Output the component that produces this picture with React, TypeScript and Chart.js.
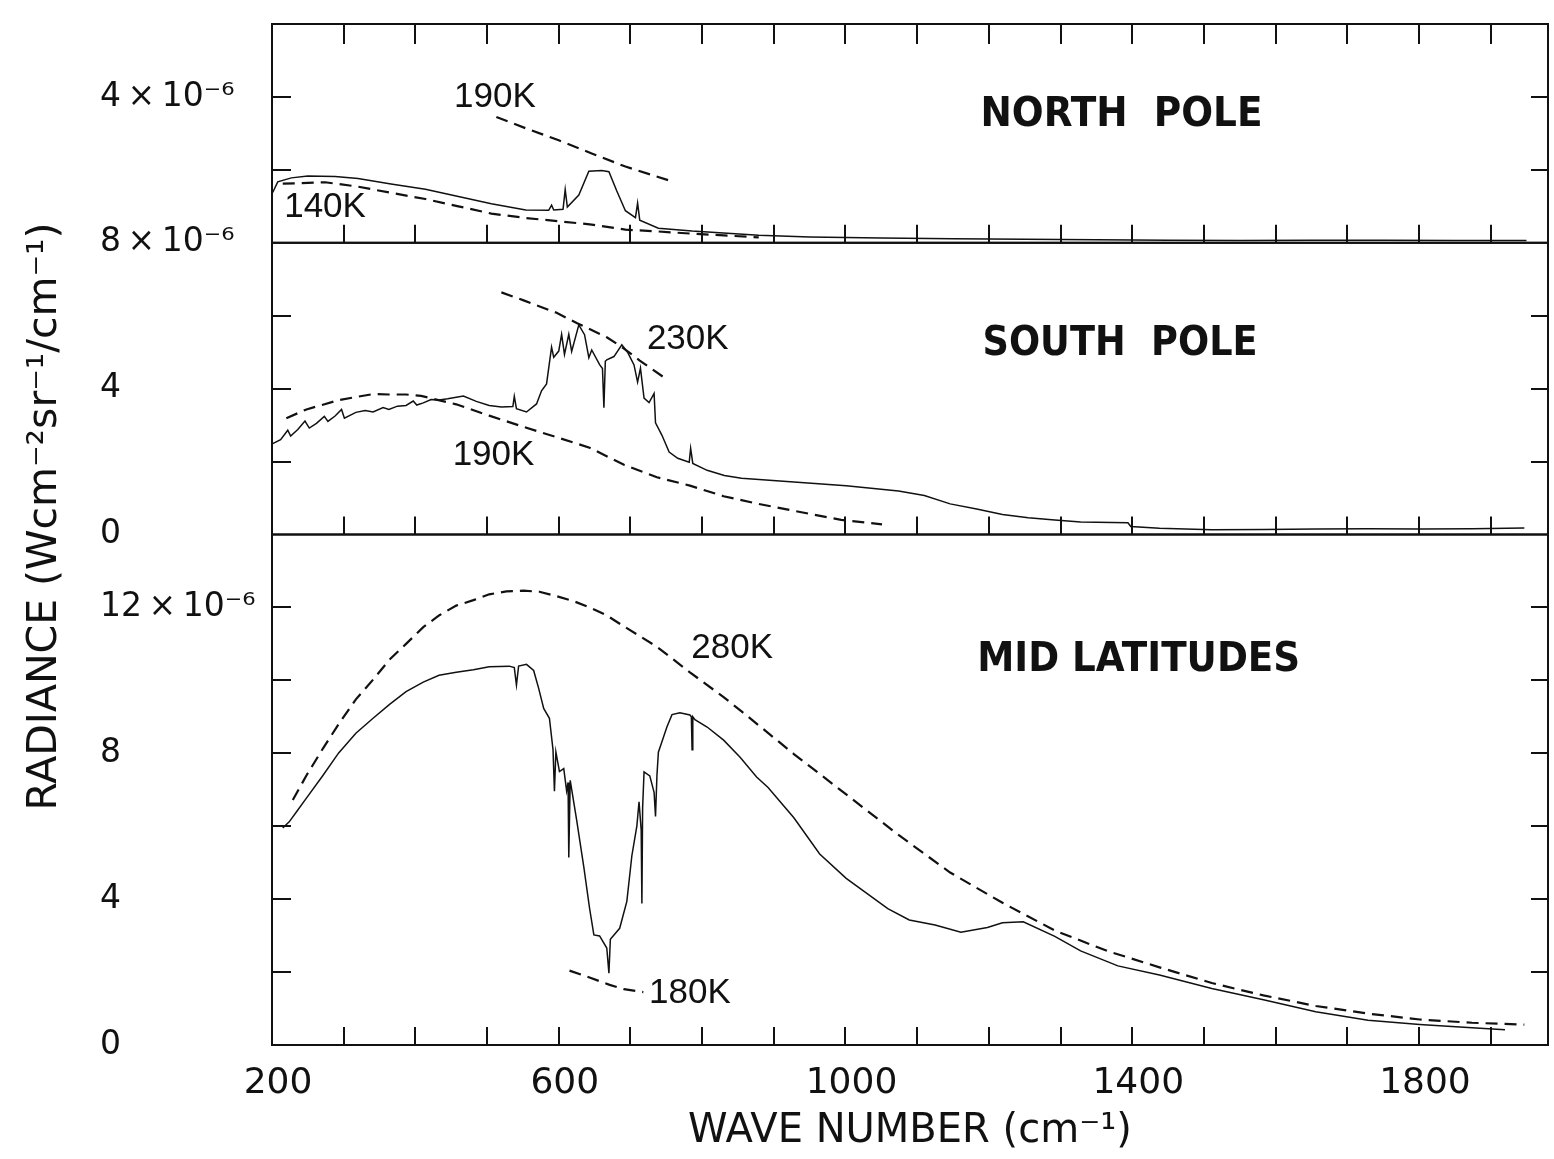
import React, { useEffect, useRef } from "react";
import { Chart, registerables } from "chart.js";

Chart.register(...registerables);

// Wavenumber (cm^-1) and radiance (units of 1e-6 W cm^-2 sr^-1 / cm^-1)
const NORTH_OBS_WN = [201, 208, 227, 250, 288, 320, 366, 414, 460, 506, 554, 586, 590, 593, 606, 609, 612, 628, 642, 660, 670, 681, 693, 707, 710, 713, 739, 786, 879, 950, 1050, 1150, 1250, 1350, 1450, 1550, 1650, 1750, 1850, 1950];
const NORTH_OBS_RAD = [1.38, 1.67, 1.78, 1.83, 1.82, 1.76, 1.61, 1.47, 1.27, 1.07, 0.9, 0.89, 1.03, 0.9, 0.92, 1.46, 0.98, 1.31, 1.96, 1.98, 1.95, 1.42, 0.88, 0.69, 1.09, 0.62, 0.4, 0.32, 0.21, 0.16, 0.13, 0.11, 0.1, 0.08, 0.07, 0.06, 0.07, 0.07, 0.06, 0.06];
const NORTH_140K_WN = [215, 274, 320, 366, 414, 460, 506, 554, 600, 646, 693, 739, 786, 879];
const NORTH_140K_RAD = [1.62, 1.66, 1.54, 1.37, 1.2, 1.0, 0.8, 0.68, 0.59, 0.5, 0.36, 0.31, 0.25, 0.15];
const NORTH_190K_WN = [513, 554, 600, 646, 693, 757];
const NORTH_190K_RAD = [3.45, 3.14, 2.81, 2.45, 2.09, 1.69];

const SOUTH_OBS_WN = [201, 212, 222, 226, 236, 246, 252, 262, 273, 278, 288, 297, 301, 317, 330, 341, 355, 363, 375, 387, 397, 402, 411, 422, 433, 445, 467, 485, 503, 520, 536, 538, 541, 555, 569, 576, 583, 590, 593, 600, 604, 608, 614, 618, 628, 636, 642, 646, 657, 661, 663, 665, 667, 677, 688, 696, 705, 710, 714, 719, 726, 733, 735, 744, 754, 766, 782, 784, 787, 807, 831, 855, 928, 1001, 1074, 1110, 1146, 1183, 1219, 1255, 1292, 1328, 1394, 1398, 1438, 1511, 1584, 1656, 1729, 1802, 1874, 1947];
const SOUTH_OBS_RAD = [2.49, 2.6, 2.86, 2.7, 2.88, 3.11, 2.92, 3.05, 3.24, 3.1, 3.25, 3.43, 3.19, 3.35, 3.4, 3.36, 3.48, 3.43, 3.52, 3.54, 3.66, 3.55, 3.61, 3.7, 3.69, 3.72, 3.8, 3.65, 3.54, 3.5, 3.51, 3.79, 3.45, 3.36, 3.58, 3.94, 4.13, 5.14, 4.86, 5.03, 5.49, 4.94, 5.49, 5.02, 5.75, 5.48, 4.85, 5.06, 4.66, 4.55, 3.48, 4.75, 4.79, 4.88, 5.2, 5.0, 4.65, 4.18, 4.56, 3.74, 3.62, 3.87, 3.06, 2.72, 2.26, 2.09, 1.98, 2.36, 1.95, 1.76, 1.62, 1.54, 1.44, 1.34, 1.19, 1.07, 0.84, 0.7, 0.55, 0.46, 0.4, 0.34, 0.32, 0.22, 0.17, 0.13, 0.14, 0.15, 0.16, 0.15, 0.16, 0.18];
const SOUTH_190K_WN = [220, 248, 271, 294, 317, 341, 363, 387, 408, 457, 503, 551, 597, 643, 691, 737, 783, 830, 876, 928, 994, 1051];
const SOUTH_190K_RAD = [3.19, 3.43, 3.56, 3.69, 3.77, 3.85, 3.84, 3.84, 3.8, 3.57, 3.26, 2.95, 2.67, 2.38, 1.91, 1.57, 1.34, 1.05, 0.85, 0.65, 0.4, 0.28];
const SOUTH_230K_WN = [520, 551, 597, 625, 667, 691, 713, 751];
const SOUTH_230K_RAD = [6.64, 6.42, 6.08, 5.8, 5.41, 5.1, 4.77, 4.25];

const MID_OBS_WN = [215, 224, 234, 248, 271, 293, 317, 341, 364, 387, 411, 433, 457, 481, 503, 531, 538, 541, 544, 555, 565, 572, 579, 587, 592, 594, 596, 601, 607, 611, 613, 614, 616, 625, 635, 643, 649, 657, 667, 670, 672, 685, 695, 702, 709, 712, 715, 716, 717, 719, 727, 733, 735, 737, 739, 751, 758, 769, 783, 785, 786, 787, 790, 807, 830, 853, 876, 892, 928, 964, 1001, 1059, 1089, 1125, 1161, 1198, 1219, 1248, 1292, 1328, 1380, 1438, 1511, 1583, 1656, 1729, 1801, 1874, 1920];
const MID_OBS_RAD = [5.95, 6.12, 6.39, 6.77, 7.39, 8.01, 8.55, 8.96, 9.34, 9.69, 9.95, 10.14, 10.22, 10.29, 10.37, 10.39, 10.35, 9.87, 10.39, 10.44, 10.27, 9.78, 9.23, 8.96, 8.1, 6.96, 8.04, 7.5, 7.58, 6.97, 7.2, 5.14, 7.26, 6.17, 4.88, 3.75, 3.02, 2.99, 2.66, 1.97, 2.9, 3.2, 3.94, 5.19, 6.01, 6.67, 5.9, 3.88, 6.5, 7.49, 7.38, 6.93, 6.27, 7.4, 8.03, 8.73, 9.06, 9.11, 9.05, 9.0, 8.1, 9.0, 8.92, 8.72, 8.36, 7.89, 7.35, 7.06, 6.23, 5.24, 4.57, 3.74, 3.43, 3.29, 3.09, 3.22, 3.35, 3.38, 2.98, 2.58, 2.17, 1.92, 1.55, 1.24, 0.91, 0.68, 0.56, 0.47, 0.42];
const MID_280K_WN = [229, 248, 271, 294, 317, 341, 364, 387, 411, 433, 457, 481, 503, 527, 551, 573, 597, 621, 643, 667, 691, 737, 783, 830, 855, 928, 1001, 1074, 1146, 1219, 1292, 1365, 1438, 1511, 1583, 1656, 1729, 1801, 1874, 1947];
const MID_280K_RAD = [6.72, 7.39, 8.13, 8.83, 9.48, 10.02, 10.57, 11.0, 11.46, 11.78, 12.05, 12.2, 12.36, 12.44, 12.46, 12.43, 12.31, 12.17, 12.0, 11.78, 11.48, 10.92, 10.22, 9.54, 9.15, 7.98, 6.87, 5.76, 4.73, 3.9, 3.14, 2.58, 2.13, 1.7, 1.36, 1.07, 0.86, 0.7, 0.61, 0.56];
const MID_180K_WN = [615, 643, 671, 691, 718];
const MID_180K_RAD = [2.04, 1.85, 1.65, 1.53, 1.45];

// Axes / ticks
const X_MIN = 200;
const X_MAX = 1980;
const X_LABEL_VALUES = [200, 600, 1000, 1400, 1800];
const X_MINOR_TICKS = [300, 400, 500, 600, 700, 800, 900, 1000, 1100, 1200, 1300, 1400, 1500, 1600, 1700, 1800, 1900];

const PANEL_AXES = ["yNorth", "ySouth", "yMid"];
const PANEL_MAX = [6, 8, 14];
const PANEL_TICKS = [[2, 4], [2, 4, 6], [2, 4, 6, 8, 10, 12]];
const NORTH_Y_LABEL_VALUES = [4];
const NORTH_Y_LABEL_TEXT = ["4\u2009×\u200910⁻⁶"];
const SOUTH_Y_LABEL_VALUES = [0, 4, 8];
const SOUTH_Y_LABEL_TEXT = ["0", "4", "8\u2009×\u200910⁻⁶"];
const MID_Y_LABEL_VALUES = [0, 4, 8, 12];
const MID_Y_LABEL_TEXT = ["0", "4", "8", "12\u2009×\u200910⁻⁶"];

// Annotations (anchored in data coordinates)
const PANEL_TITLE_TEXT = ["NORTH  POLE", "SOUTH  POLE", "MID LATITUDES"];
const PANEL_TITLE_WN = [1385, 1383, 1409];
const PANEL_TITLE_RAD = [3.5, 5.21, 10.54];
const TEMP_LABEL_TEXT = ["190K", "140K", "230K", "190K", "280K", "180K"];
const TEMP_LABEL_WN = [511, 274, 780, 509, 842, 783];
const TEMP_LABEL_RAD = [3.98, 0.98, 5.36, 2.17, 10.88, 1.43];
const TEMP_LABEL_AXIS = ["yNorth", "yNorth", "ySouth", "ySouth", "yMid", "yMid"];

const Y_TITLE = "RADIANCE (Wcm⁻²sr⁻¹/cm⁻¹)";
const X_TITLE = "WAVE NUMBER (cm⁻¹)";

const INK = "#111";
const SANS = '"DejaVu Sans", "Noto Sans", sans-serif';
const THIN = '"Liberation Sans", Arial, sans-serif';

const pts = (xs: number[], ys: number[]) => xs.map((x, i) => ({ x, y: ys[i] }));
const labelFor = (vals: number[], texts: string[]) => (v: any) => {
  const i = vals.indexOf(Number(v));
  return i >= 0 ? texts[i] : "";
};

const overlayPlugin = {
  id: "overlay",
  afterDraw(chart: any) {
    const { ctx, chartArea } = chart;
    const xs = chart.scales.x;
    const { left, right } = chartArea;
    ctx.save();
    ctx.strokeStyle = INK;
    ctx.lineWidth = 2;
    const seg = (x1: number, y1: number, x2: number, y2: number) => {
      ctx.beginPath();
      ctx.moveTo(x1, y1);
      ctx.lineTo(x2, y2);
      ctx.stroke();
    };
    PANEL_AXES.forEach((id, k) => {
      const ys = chart.scales[id];
      ctx.strokeRect(left, ys.top, right - left, ys.bottom - ys.top);
      X_MINOR_TICKS.forEach((v) => {
        const px = Math.round(xs.getPixelForValue(v));
        seg(px, ys.bottom, px, ys.bottom - 18);
        if (k === 0) seg(px, ys.top, px, ys.top + 20);
      });
      PANEL_TICKS[k].forEach((v) => {
        const py = Math.round(ys.getPixelForValue(v));
        seg(left, py, left + 19, py);
        seg(right, py, right - 17, py);
      });
    });

    ctx.fillStyle = INK;
    ctx.textAlign = "center";
    ctx.textBaseline = "middle";
    const PANEL_TITLE_WIDTH = [282, 275, 323];
    PANEL_TITLE_TEXT.forEach((t, i) => {
      const ys = chart.scales[PANEL_AXES[i]];
      const px = xs.getPixelForValue(PANEL_TITLE_WN[i]);
      const py = ys.getPixelForValue(PANEL_TITLE_RAD[i]);
      ctx.font = `bold 40px ${SANS}`;
      const w = ctx.measureText(t).width;
      ctx.save();
      ctx.translate(px, py);
      ctx.scale(PANEL_TITLE_WIDTH[i] / w, 1);
      ctx.fillText(t, 0, 0);
      ctx.restore();
    });

    ctx.font = `35px ${THIN}`;
    TEMP_LABEL_TEXT.forEach((t, i) => {
      const ys = chart.scales[TEMP_LABEL_AXIS[i]];
      ctx.fillText(t, xs.getPixelForValue(TEMP_LABEL_WN[i]), ys.getPixelForValue(TEMP_LABEL_RAD[i]));
    });

    // rotated y-axis title
    ctx.font = `40px ${SANS}`;
    const tw = ctx.measureText(Y_TITLE).width;
    ctx.save();
    ctx.translate(46, (chartArea.top + chartArea.bottom) / 2 - 18);
    ctx.rotate(-Math.PI / 2);
    ctx.scale(588 / tw, 1);
    ctx.fillText(Y_TITLE, 0, 0);
    ctx.restore();
    ctx.restore();
  },
};

const yAxis = (max: number, weight: number, vals: number[], texts: string[]) => ({
  type: "linear",
  position: "left",
  stack: "panels",
  stackWeight: weight,
  min: 0,
  max,
  grid: { display: false, drawTicks: false },
  border: { display: false },
  afterBuildTicks: (s: any) => {
    s.ticks = vals.map((v) => ({ value: v }));
  },
  afterFit: (s: any) => {
    s.width = 172;
  },
  ticks: {
    autoSkip: false,
    crossAlign: "far",
    padding: 0,
    color: INK,
    font: { family: SANS, size: 33 },
    callback: labelFor(vals, texts),
  },
});

export default function App() {
  const ref = useRef<HTMLCanvasElement | null>(null);
  useEffect(() => {
    if (!ref.current) return;
    const solid = { borderColor: INK, borderWidth: 1.5, pointRadius: 0, fill: false, tension: 0 };
    const dashed = { borderColor: INK, borderWidth: 2.2, borderDash: [12, 7], pointRadius: 0, fill: false, tension: 0 };
    const chart = new Chart(ref.current, {
      type: "line",
      data: {
        datasets: [
          { label: "North Pole", data: pts(NORTH_OBS_WN, NORTH_OBS_RAD), yAxisID: "yNorth", ...solid },
          { label: "140K", data: pts(NORTH_140K_WN, NORTH_140K_RAD), yAxisID: "yNorth", ...dashed },
          { label: "190K", data: pts(NORTH_190K_WN, NORTH_190K_RAD), yAxisID: "yNorth", ...dashed },
          { label: "South Pole", data: pts(SOUTH_OBS_WN, SOUTH_OBS_RAD), yAxisID: "ySouth", ...solid },
          { label: "190K", data: pts(SOUTH_190K_WN, SOUTH_190K_RAD), yAxisID: "ySouth", ...dashed },
          { label: "230K", data: pts(SOUTH_230K_WN, SOUTH_230K_RAD), yAxisID: "ySouth", ...dashed },
          { label: "Mid latitudes", data: pts(MID_OBS_WN, MID_OBS_RAD), yAxisID: "yMid", ...solid },
          { label: "280K", data: pts(MID_280K_WN, MID_280K_RAD), yAxisID: "yMid", ...dashed },
          { label: "180K", data: pts(MID_180K_WN, MID_180K_RAD), yAxisID: "yMid", ...dashed },
        ],
      } as any,
      options: {
        responsive: false,
        animation: false,
        devicePixelRatio: 1,
        layout: { padding: { top: 24, right: 6, left: 100, bottom: 0 } },
        plugins: { legend: { display: false }, tooltip: { enabled: false }, title: { display: false } },
        scales: {
          x: {
            type: "linear",
            position: "bottom",
            min: X_MIN,
            max: X_MAX,
            grid: { display: false, drawTicks: false },
            border: { display: false },
            afterBuildTicks: (s: any) => {
              s.ticks = X_LABEL_VALUES.map((v) => ({ value: v }));
            },
            afterFit: (s: any) => {
              s.height = 114;
            },
            ticks: {
              autoSkip: false,
              maxRotation: 0,
              minRotation: 0,
              padding: 17,
              labelOffset: 6,
              color: INK,
              font: { family: SANS, size: 36 },
              callback: (v: any) => String(v),
            },
            title: {
              display: true,
              text: X_TITLE,
              color: INK,
              font: { family: SANS, size: 40 },
              padding: { top: 0, bottom: 3 },
            },
          },
          yMid: yAxis(PANEL_MAX[2], 14, MID_Y_LABEL_VALUES, MID_Y_LABEL_TEXT),
          ySouth: yAxis(PANEL_MAX[1], 8, SOUTH_Y_LABEL_VALUES, SOUTH_Y_LABEL_TEXT),
          yNorth: yAxis(PANEL_MAX[0], 6, NORTH_Y_LABEL_VALUES, NORTH_Y_LABEL_TEXT),
        },
      } as any,
      plugins: [overlayPlugin],
    });
    return () => chart.destroy();
  }, []);
  return (
    <div style={{ position: "absolute", left: 0, top: 0, width: 1554, height: 1159, background: "#fff" }}>
      <canvas ref={ref} width={1554} height={1159} style={{ display: "block" }} />
    </div>
  );
}
